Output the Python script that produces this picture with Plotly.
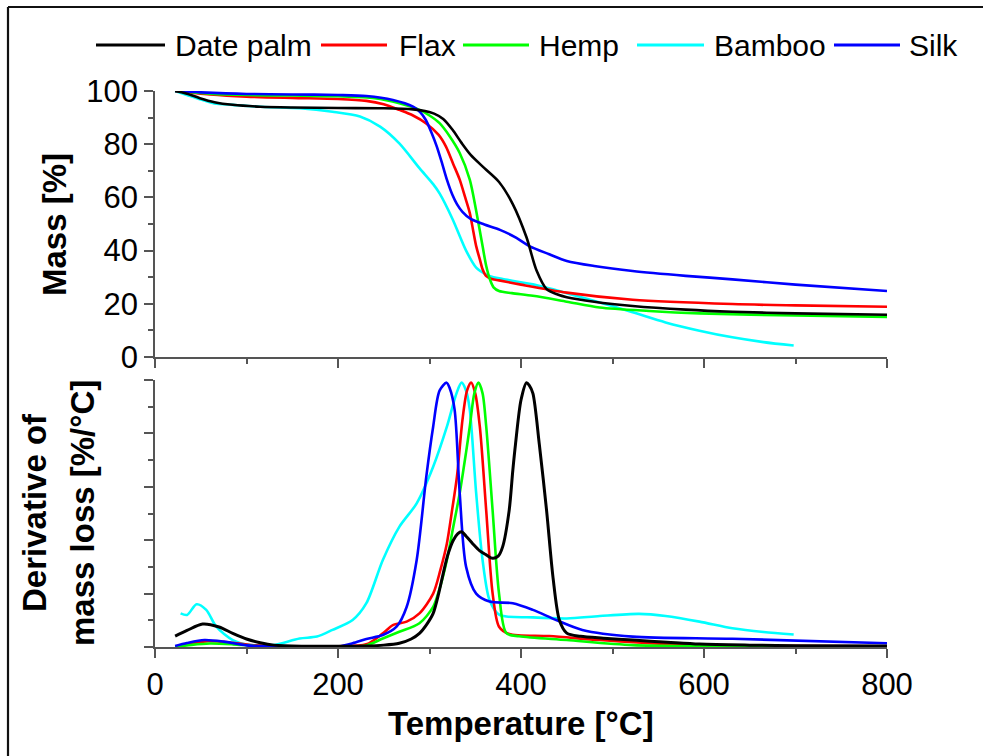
import plotly.graph_objects as go
from plotly.subplots import make_subplots

# ---- Series names and colours ----
names = ["Date palm", "Flax", "Hemp", "Bamboo", "Silk"]
colors = ["#000000", "#ff0000", "#00ff00", "#00ffff", "#0000ff"]

# ---- TGA: mass [%] vs temperature [°C] ----
tga_date_palm_T = [22, 35, 49, 65, 85, 115, 150, 200, 250, 282, 295, 305, 315, 325, 335, 345, 360, 376, 391, 406, 417, 428, 440, 450, 480, 522, 580, 631, 700, 800]
tga_date_palm_M = [100, 99.0, 97.3, 95.8, 94.8, 94.1, 93.8, 93.6, 93.5, 93.1, 92.5, 91.5, 89.5, 85.5, 80.5, 76.0, 71.0, 65.8, 57.5, 45.0, 32.5, 25.5, 23.5, 22.5, 20.8, 19.2, 17.8, 17.0, 16.4, 15.9]

tga_flax_T = [22, 60, 100, 150, 200, 231, 250, 267, 282, 296, 310, 318, 326, 333, 339, 344, 348, 351, 355, 358, 362, 369, 376, 400, 450, 522, 631, 700, 800]
tga_flax_M = [100, 98.7, 97.9, 97.4, 97.0, 96.3, 95.0, 92.9, 90.8, 87.9, 83.5, 79.1, 72.5, 66.7, 60.0, 54.2, 47.0, 41.7, 36.7, 33.0, 30.4, 29.2, 28.8, 27.2, 24.2, 21.5, 19.9, 19.4, 18.9]

tga_hemp_T = [22, 60, 100, 150, 200, 240, 267, 289, 300, 311, 322, 333, 344, 351, 358, 362, 366, 370, 376, 390, 413, 450, 486, 540, 595, 700, 800]
tga_hemp_M = [100, 99.0, 98.5, 98.3, 98.0, 97.3, 95.4, 92.9, 90.8, 87.9, 83.0, 76.7, 66.7, 55.0, 41.7, 34.2, 29.2, 26.2, 24.8, 24.0, 23.0, 20.8, 18.6, 17.3, 16.4, 15.6, 15.1]

tga_bamboo_T = [22, 35, 49, 65, 85, 120, 158, 194, 224, 246, 267, 289, 304, 311, 325, 340, 351, 362, 370, 380, 413, 450, 486, 522, 558, 595, 631, 665, 698]
tga_bamboo_M = [100, 98.5, 96.9, 95.3, 94.8, 94.0, 93.5, 92.2, 90.4, 86.6, 80.3, 71.0, 65.0, 61.5, 52.0, 40.0, 33.6, 31.0, 30.0, 29.3, 27.3, 24.0, 20.5, 16.8, 13.0, 9.9, 7.4, 5.6, 4.3]

tga_silk_T = [22, 50, 100, 150, 200, 231, 260, 282, 290, 296, 302, 308, 314, 319, 325, 330, 336, 345, 360, 377, 395, 409, 431, 450, 480, 522, 580, 631, 700, 800]
tga_silk_M = [100, 99.5, 98.9, 98.7, 98.5, 98.1, 96.6, 94.1, 92.0, 89.1, 84.5, 79.1, 72.5, 66.7, 61.0, 57.5, 54.6, 51.9, 49.8, 47.8, 44.8, 41.7, 38.6, 36.1, 34.2, 32.3, 30.5, 29.2, 27.2, 24.8]

# ---- DTG: derivative of mass loss (normalised scale) ----
dtg_date_palm_T = [22, 35, 52, 70, 85, 100, 115, 130, 160, 200, 231, 250, 267, 280, 289, 297, 304, 310, 315, 320, 326, 331, 335, 340, 347, 355, 362, 369, 375, 380, 387, 391, 394, 400, 406, 409, 413, 420, 428, 435, 442, 450, 465, 490, 522, 560, 595, 650, 700, 800]
dtg_date_palm_D = [0.41, 0.62, 0.86, 0.75, 0.51, 0.30, 0.16, 0.07, 0.03, 0.03, 0.04, 0.07, 0.14, 0.30, 0.51, 0.85, 1.26, 2.0, 2.76, 3.45, 4.0, 4.25, 4.32, 4.15, 3.88, 3.6, 3.45, 3.32, 3.4, 3.76, 5.1, 6.6, 7.6, 9.25, 9.9, 9.8, 9.5, 7.6, 5.1, 2.6, 1.0, 0.52, 0.40, 0.33, 0.26, 0.18, 0.11, 0.07, 0.05, 0.04]

dtg_flax_T = [22, 40, 58, 85, 110, 140, 200, 231, 249, 260, 275, 289, 304, 312, 319, 325, 330, 336, 341, 345.5, 350, 355, 362, 369, 376, 387, 431, 486, 558, 631, 800]
dtg_flax_D = [0.0, 0.12, 0.22, 0.16, 0.06, 0.03, 0.03, 0.1, 0.51, 0.82, 0.95, 1.26, 2.0, 2.9, 3.88, 5.2, 6.38, 8.5, 9.6, 9.9, 9.5, 8.25, 5.1, 2.0, 0.76, 0.49, 0.41, 0.26, 0.11, 0.05, 0.03]

dtg_hemp_T = [22, 40, 60, 85, 110, 140, 200, 231, 249, 267, 289, 304, 312, 319, 326, 333, 340, 344, 349, 353.5, 358, 362, 369, 376, 384, 398, 450, 522, 600, 800]
dtg_hemp_D = [0.0, 0.08, 0.13, 0.1, 0.04, 0.02, 0.02, 0.06, 0.32, 0.57, 0.89, 1.5, 2.3, 3.26, 4.5, 5.76, 7.3, 8.25, 9.5, 9.9, 9.5, 8.25, 5.1, 2.0, 0.52, 0.40, 0.26, 0.07, 0.03, 0.02]

dtg_bamboo_T = [28, 35, 45.5, 56, 67, 85, 104, 129, 158, 177, 194, 216, 231, 249, 267, 286, 304, 319, 329.5, 335, 340, 344, 351, 358, 365.6, 376.5, 413, 450, 486, 529, 558, 595, 631, 665, 698]
dtg_bamboo_D = [1.26, 1.2, 1.6, 1.39, 0.76, 0.26, 0.07, 0.07, 0.32, 0.39, 0.64, 1.01, 1.64, 3.26, 4.5, 5.38, 6.75, 8.25, 9.5, 9.9, 9.6, 8.9, 5.76, 3.26, 1.76, 1.2, 1.11, 1.07, 1.16, 1.24, 1.16, 0.95, 0.7, 0.56, 0.47]

dtg_silk_T = [22, 35, 54, 75, 100, 130, 200, 216, 231, 249, 264, 275, 286, 296.5, 304, 311, 318.7, 322, 327.4, 333, 340, 351, 365.6, 391, 413, 438.5, 467, 522, 631, 800]
dtg_silk_D = [0.04, 0.15, 0.26, 0.2, 0.06, 0.02, 0.02, 0.14, 0.3, 0.45, 0.76, 1.5, 3.26, 6.38, 8.25, 9.6, 9.9, 9.7, 8.9, 5.76, 3.0, 2.0, 1.7, 1.64, 1.39, 1.01, 0.64, 0.39, 0.31, 0.14]

# ---- Axis ticks ----
x_ticks = [0, 200, 400, 600, 800]
x_tick_labels = ["0", "200", "400", "600", "800"]
mass_ticks = [0, 20, 40, 60, 80, 100]
mass_tick_labels = ["0", "20", "40", "60", "80", "100"]

tga = [(tga_date_palm_T, tga_date_palm_M), (tga_flax_T, tga_flax_M), (tga_hemp_T, tga_hemp_M),
       (tga_bamboo_T, tga_bamboo_M), (tga_silk_T, tga_silk_M)]
dtg = [(dtg_date_palm_T, dtg_date_palm_D), (dtg_flax_T, dtg_flax_D), (dtg_hemp_T, dtg_hemp_D),
       (dtg_bamboo_T, dtg_bamboo_D), (dtg_silk_T, dtg_silk_D)]

# ---- Page geometry (pixels) ----
W, H = 983, 756
L, R, T, B = 155, 96, 91, 109
PW, PH = W - L - R, H - T - B


def px(x):
    return (x - L) / PW


def py(y):
    return (H - B - y) / PH


FONT = "Liberation Sans, Arial, sans-serif"
AX = "#555555"

fig = make_subplots(rows=2, cols=1, shared_xaxes=False, vertical_spacing=0)

# draw order: later series on top, Date palm last
order = [3, 1, 2, 4, 0]
for i in order:
    t, m = tga[i]
    fig.add_trace(go.Scatter(x=t, y=m, mode="lines", name=names[i], showlegend=False,
                             line=dict(color=colors[i], width=2.6, shape="spline", smoothing=0.8)),
                  row=1, col=1)
for i in order:
    t, d = dtg[i]
    fig.add_trace(go.Scatter(x=t, y=d, mode="lines", name=names[i], showlegend=False,
                             line=dict(color=colors[i], width=2.6 if i else 3.0, shape="spline", smoothing=0.8)),
                  row=2, col=1)

common_x = dict(range=[0, 800], tickvals=x_ticks, ticktext=x_tick_labels, ticks="outside", ticklen=9,
                tickwidth=1.5, tickcolor=AX, showline=True, linecolor=AX, linewidth=1.5,
                showgrid=False, zeroline=False,
                minor=dict(dtick=100, tick0=0, ticks="outside", ticklen=5, tickwidth=1.5, tickcolor=AX))

fig.update_layout(
    width=W, height=H,
    margin=dict(l=L, r=R, t=T, b=B),
    paper_bgcolor="white", plot_bgcolor="white",
    font=dict(family=FONT, color="black", size=31),
    showlegend=False,
    xaxis=dict(**common_x, showticklabels=False, anchor="y", domain=[0, 1]),
    yaxis=dict(range=[0, 100], domain=[py(357), 1], tickvals=mass_ticks, ticktext=mass_tick_labels,
               ticks="outside", ticklen=9, tickwidth=1.5, tickcolor=AX, showline=True, linecolor=AX,
               linewidth=1.5, showgrid=False, zeroline=False, tickfont=dict(size=31),
               minor=dict(dtick=10, tick0=0, ticks="outside", ticklen=5, tickwidth=1.5, tickcolor=AX)),
    xaxis2=dict(**common_x, showticklabels=True, tickfont=dict(size=31), anchor="y2", domain=[0, 1]),
    yaxis2=dict(range=[0, 10], domain=[0, py(380)], dtick=2, tick0=0, showticklabels=False,
                ticks="outside", ticklen=9, tickwidth=1.5, tickcolor=AX, showline=True, linecolor=AX,
                linewidth=1.5, showgrid=False, zeroline=False,
                minor=dict(dtick=1, tick0=0, ticks="outside", ticklen=5, tickwidth=1.5, tickcolor=AX)),
)

shapes = []
annotations = []

# frame along the top and left edges
shapes.append(dict(type="line", xref="paper", yref="paper", x0=px(8), x1=px(990), y0=py(7), y1=py(7),
                   line=dict(color="#111111", width=2.2)))
shapes.append(dict(type="line", xref="paper", yref="paper", x0=px(8), x1=px(8), y0=py(7), y1=py(770),
                   line=dict(color="#111111", width=2.2)))

# horizontal key along the top
key_lines = [(96, 165), (321, 387), (463, 529), (637, 704), (834, 900)]
key_text_x = [173, 397, 537, 712, 907]
key_y = 45
for i, name in enumerate(names):
    x0, x1 = key_lines[i]
    shapes.append(dict(type="line", xref="paper", yref="paper", x0=px(x0), x1=px(x1),
                       y0=py(key_y), y1=py(key_y), line=dict(color=colors[i], width=3)))
    annotations.append(dict(text=name, xref="paper", yref="paper", x=px(key_text_x[i]), y=py(key_y),
                            xanchor="left", yanchor="middle", showarrow=False,
                            font=dict(size=30, family=FONT, color="black")))

# axis titles
TITLE_SIZE = 33
annotations.append(dict(text="<b>Mass [%]</b>", xref="paper", yref="paper", x=px(55), y=py(224),
                        textangle=-90, xanchor="center", yanchor="middle", showarrow=False,
                        font=dict(size=TITLE_SIZE, family=FONT)))
annotations.append(dict(text="<b>Derivative of</b>", xref="paper", yref="paper", x=px(34), y=py(513),
                        textangle=-90, xanchor="center", yanchor="middle", showarrow=False,
                        font=dict(size=TITLE_SIZE, family=FONT)))
annotations.append(dict(text="<b>mass loss [%/°C]</b>", xref="paper", yref="paper", x=px(82), y=py(513),
                        textangle=-90, xanchor="center", yanchor="middle", showarrow=False,
                        font=dict(size=TITLE_SIZE, family=FONT)))
annotations.append(dict(text="<b>Temperature [°C]</b>", xref="paper", yref="paper", x=px(521), y=py(723),
                        xanchor="center", yanchor="middle", showarrow=False,
                        font=dict(size=TITLE_SIZE, family=FONT)))

fig.update_layout(shapes=shapes, annotations=annotations)

fig.write_html("out.html")
